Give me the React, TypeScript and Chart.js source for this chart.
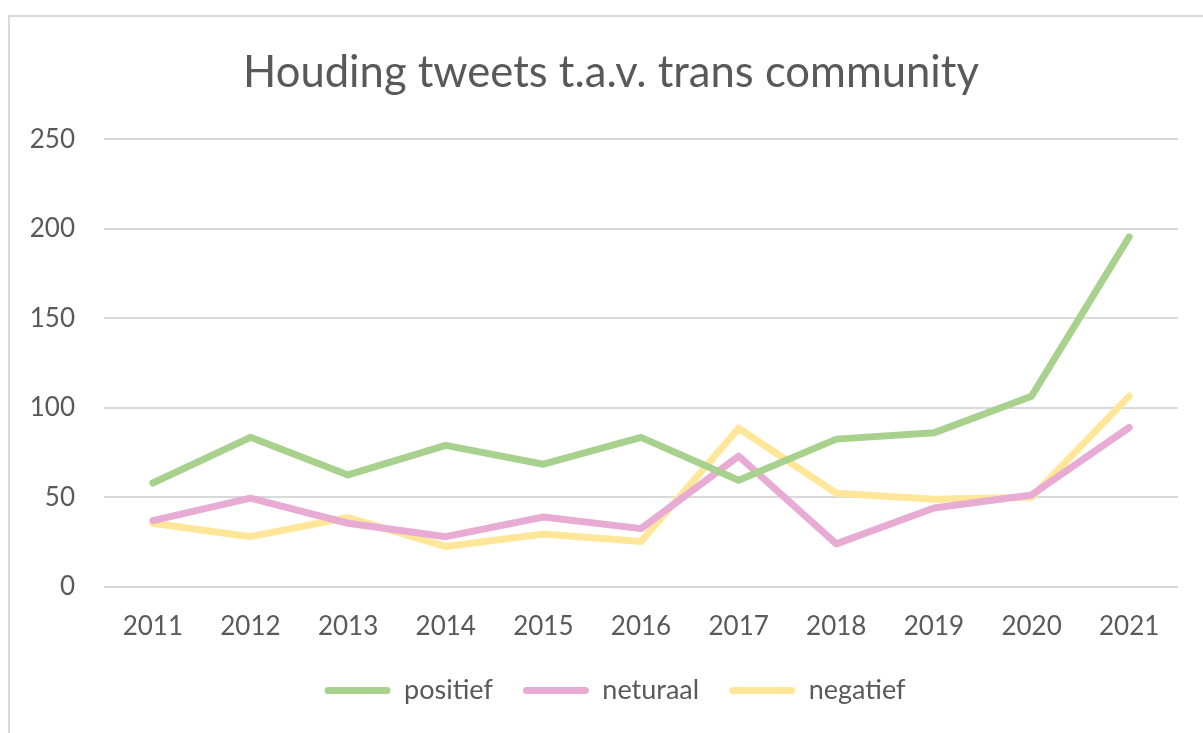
import React, { useEffect, useRef } from "react";
import { Chart, registerables } from "chart.js";

Chart.register(...registerables);

const years = ["2011", "2012", "2013", "2014", "2015", "2016", "2017", "2018", "2019", "2020", "2021"];
const positief = [58, 83.5, 62.5, 79, 68.5, 83.5, 59.5, 82.5, 86, 106.5, 195.5];
const neturaal = [37, 49.5, 35.5, 28, 39, 32.5, 73, 24, 44, 51.3, 89];
const negatief = [35.5, 28, 38.7, 22.5, 29.5, 25.3, 88.6, 52.3, 48.9, 50, 106.5];
const seriesNames = ["positief", "neturaal", "negatief"];
const seriesColors = ["#A9D18E", "#E8ABD4", "#FFE699"];
const titleText = "Houding tweets t.a.v. trans community";

// nudges the title and legend boxes after layout (Excel-like placement)
const boxNudge = {
  id: "boxNudge",
  afterLayout(chart: any) {
    const t = chart.titleBlock;
    if (t) {
      t.left += 17;
      t.right += 17;
    }
    const l = chart.legend;
    if (l) {
      l.left += 21;
      l.right += 21;
      l.top -= 19;
      l.bottom -= 19;
    }
  },
};

export default function App() {
  const ref = useRef<HTMLCanvasElement | null>(null);

  useEffect(() => {
    document.body.style.margin = "0";
    document.body.style.overflow = "hidden";
    const canvas = ref.current;
    if (!canvas) return;
    const font = "Lato, 'Open Sans', sans-serif";
    const values = [positief, neturaal, negatief];
    const chart = new Chart(canvas, {
      type: "line",
      data: {
        labels: years,
        datasets: values.map((v, i) => ({
          label: seriesNames[i],
          data: v,
          borderColor: seriesColors[i],
          backgroundColor: seriesColors[i],
          borderWidth: 7,
          borderCapStyle: "round" as const,
          borderJoinStyle: "round" as const,
          pointRadius: 0,
          pointHoverRadius: 0,
          tension: 0,
          fill: false,
        })),
      },
      plugins: [boxNudge],
      options: {
        animation: false,
        responsive: false,
        maintainAspectRatio: false,
        layout: { padding: { left: 0, right: 25, top: 0, bottom: 0 } },
        plugins: {
          title: {
            display: true,
            text: titleText,
            color: "#595959",
            font: { family: font, size: 43.6, weight: "normal" },
            padding: { top: 30, bottom: 40 },
          },
          legend: {
            display: true,
            position: "bottom",
            labels: {
              color: "#595959",
              font: { family: font, size: 27 },
              boxWidth: 66,
              boxHeight: 7,
              padding: 30,
              useBorderRadius: true,
              borderRadius: 3.5,
              generateLabels: (c: any) =>
                c.data.datasets.map((d: any, i: number) => ({
                  text: d.label,
                  fillStyle: d.borderColor,
                  strokeStyle: d.borderColor,
                  fontColor: "#595959",
                  lineWidth: 0,
                  hidden: false,
                  datasetIndex: i,
                  borderRadius: 3.5,
                })),
            },
          },
          tooltip: { enabled: false },
        },
        scales: {
          x: {
            offset: true,
            grid: { display: false, drawTicks: false },
            border: { display: false },
            ticks: {
              color: "#595959",
              font: { family: font, size: 26 },
              padding: 24,
              maxRotation: 0,
            },
          },
          y: {
            min: 0,
            max: 250,
            grid: { color: "#D9D9D9", lineWidth: 2, drawTicks: false },
            border: { display: false },
            ticks: {
              stepSize: 50,
              color: "#595959",
              font: { family: font, size: 26 },
              padding: 29,
            },
            afterFit: (scale: any) => {
              scale.width = 94;
            },
          },
        },
      },
    });
    return () => chart.destroy();
  }, []);

  return (
    <div
      style={{
        position: "absolute",
        left: 8,
        top: 15,
        width: 1195,
        height: 718,
        borderLeft: "2px solid #D9D9D9",
        borderTop: "2px solid #D9D9D9",
        boxSizing: "border-box",
        background: "#fff",
      }}
    >
      <canvas ref={ref} width={1193} height={716} style={{ display: "block" }} />
    </div>
  );
}
